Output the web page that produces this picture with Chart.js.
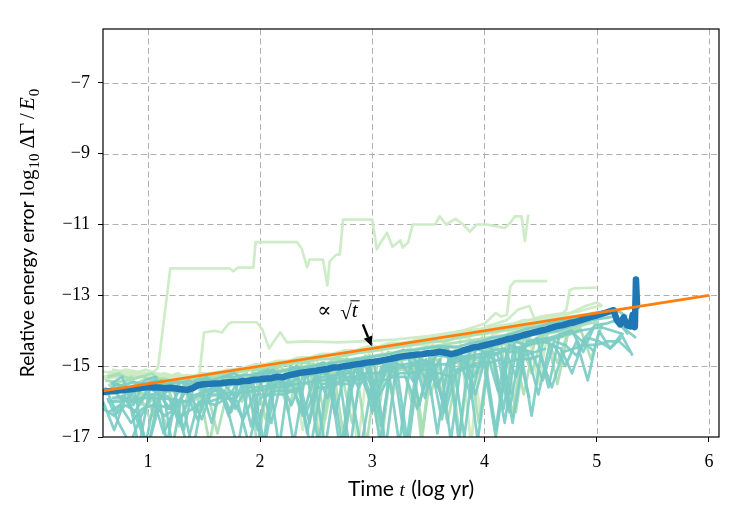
<!DOCTYPE html>
<html><head><meta charset="utf-8">
<script src="https://cdn.jsdelivr.net/npm/chart.js@4.4.1/dist/chart.umd.min.js"></script>
<style>html,body{margin:0;padding:0;background:#fff;}canvas{display:block;}</style>
</head><body>
<canvas id="c" width="750" height="525"></canvas>
<script>
// ---------- tick labels ----------
const xTicks = [1, 2, 3, 4, 5, 6];
const yTicks = [-17, -15, -13, -11, -9, -7];

// ---------- sample times (log yr) ----------
const tA = [0.6,0.7,0.8,0.9,1.0,1.1,1.2,1.3,1.4,1.5,1.6,1.7,1.8,1.9,2.0,2.1,2.2,2.3,2.4,2.5,2.6,2.7,2.8,2.9,3.0,3.1,3.2,3.3,3.4,3.5,3.6,3.7,3.8,3.9,4.0,4.1,4.2,4.3,4.4,4.5,4.6,4.7,4.8,4.9,5.0,5.1,5.2,5.3];
const tB = [0.65,0.75,0.85,0.95,1.05,1.15,1.25,1.35,1.45,1.55,1.65,1.75,1.85,1.95,2.05,2.15,2.25,2.35,2.45,2.55,2.65,2.75,2.85,2.95,3.05,3.15,3.25,3.35,3.45,3.55,3.65,3.75,3.85,3.95,4.05,4.15,4.25,4.35,4.45,4.55,4.65,4.75,4.85,4.95,5.05,5.15,5.25,5.35];
const tC = [0.62,0.72,0.82,0.92,1.02,1.12,1.22,1.32,1.42,1.52,1.62,1.72,1.82,1.92,2.02,2.12,2.22,2.32,2.42,2.52,2.62,2.72,2.82,2.92,3.02,3.12,3.22,3.32,3.42,3.52,3.62,3.72,3.82,3.92,4.02,4.12,4.22,4.32,4.42,4.52,4.62,4.72,4.82,4.92,5.02,5.12,5.22,5.32];
const tD = [0.67,0.77,0.87,0.97,1.07,1.17,1.27,1.37,1.47,1.57,1.67,1.77,1.87,1.97,2.07,2.17,2.27,2.37,2.47,2.57,2.67,2.77,2.87,2.97,3.07,3.17,3.27,3.37,3.47,3.57,3.67,3.77,3.87,3.97,4.07,4.17,4.27,4.37,4.47,4.57,4.67,4.77,4.87,4.97,5.07,5.17,5.27,5.37];
const tE = [0.64,0.74,0.84,0.94,1.04,1.14,1.24,1.34,1.44,1.54,1.64,1.74,1.84,1.94,2.04,2.14,2.24,2.34,2.44,2.54,2.64,2.74,2.84,2.94,3.04,3.14,3.24,3.34,3.44,3.54,3.64,3.74,3.84,3.94,4.04,4.14,4.24,4.34,4.44,4.54,4.64,4.74,4.84,4.94,5.04,5.14,5.24,5.34];
const tF = [0.68,0.78,0.88,0.98,1.08,1.18,1.28,1.38,1.48,1.58,1.68,1.78,1.88,1.98,2.08,2.18,2.28,2.38,2.48,2.58,2.68,2.78,2.88,2.98,3.08,3.18,3.28,3.38,3.48,3.58,3.68,3.78,3.88,3.98,4.08,4.18,4.28,4.38,4.48,4.58,4.68,4.78,4.88,4.98,5.08,5.18,5.28,5.38];

// ---------- individual runs (log10 relative energy error) ----------
const run01 = [-15.15,-15.2,-15.1,-15.15,-15.2,-15.3,-15.25,-15.3,-15.35,-15.2,-15.25,-15.1,-15.15,-15.05,-15.0,-15.3,-14.9,-14.9,-14.85,-14.8,-15.6,-14.7,-14.65,-14.6,-14.55,-14.5,-14.45,-14.4,-14.9,-14.3,-14.25,-14.2,-14.2,-14.1,-14.05,-14.0,-13.95,-14.6,-13.85,-13.8,-13.75,-13.7,-13.7,-13.6,-13.55];
const run02 = [-15.4,-15.6,-15.3,-15.8,-15.5,-15.4,-16.2,-15.5,-15.6,-15.4,-15.9,-15.3,-15.6,-15.2,-16.5,-15.2,-15.1,-15.8,-15.0,-16.8,-14.95,-15.3,-14.9,-17.2,-14.8,-15.0,-14.7,-16.0,-14.7,-14.6,-15.5,-14.5,-14.5,-16.6,-14.4,-14.6,-14.3,-15.8,-14.25,-14.2,-14.9,-14.0,-13.95];
const run03 = [-15.6,-16.3,-15.7,-17.3,-15.6,-15.9,-15.5,-16.8,-15.4,-15.7,-15.5,-16.4,-15.3,-15.5,-17.4,-15.2,-15.4,-15.1,-16.9,-15.0,-15.3,-17.5,-14.9,-15.2,-16.2,-14.9,-15.1,-17.3,-14.8,-14.9,-16.5,-14.7,-14.9,-15.8,-14.6,-14.7,-16.3,-14.5,-14.6,-15.4,-14.3,-14.4,-14.7,-14.2,-14.3,-14.5,-14.1,-14.7];
const run04 = [-15.5,-15.3,-16.1,-15.4,-15.3,-17.2,-15.5,-15.4,-15.6,-16.6,-15.3,-15.2,-15.4,-15.2,-15.1,-17.3,-15.0,-15.2,-15.0,-14.9,-16.4,-14.9,-14.8,-15.0,-17.2,-14.7,-14.8,-14.7,-15.9,-14.6,-14.5,-17.1,-14.5,-14.4,-14.5,-16.2,-14.3,-14.4,-14.2,-15.6,-14.1,-14.0,-14.3,-13.9];
const run05 = [-15.3,-15.2,-15.4,-15.3,-15.2,-15.6,-15.4,-15.5,-16.3,-15.4,-15.3,-15.2,-16.0,-15.1,-15.1,-15.0,-15.6,-14.9,-14.9,-17.4,-14.8,-14.8,-15.1,-14.7,-16.6,-14.6,-14.7,-14.6,-17.0,-14.5,-14.4,-14.5,-15.4,-14.3,-14.3,-16.0,-14.2,-14.1,-14.3,-14.0,-14.0];
const run06 = [-15.1,-15.15,-15.2,-15.1,-15.2,-15.3,-15.35,-15.3,-15.2,-15.3,-15.2,-15.1,-15.6,-15.0,-14.95,-14.9,-14.9,-16.8,-14.8,-14.75,-14.7,-14.7,-14.6,-14.6,-14.5,-15.9,-14.45,-14.4,-14.35,-14.3,-14.25,-14.2,-17.2,-14.1,-14.05,-14.0,-13.95,-13.9,-15.5,-13.8,-13.75,-13.7,-13.65,-13.6,-13.55];
const run07 = [-16.0,-16.8,-15.9,-16.5,-17.3,-15.8,-16.2,-15.9,-17.4,-15.7,-15.6,-16.1,-17.3,-15.5,-15.4,-16.6,-15.3,-17.2,-15.3,-15.2,-15.9,-15.1,-17.4,-15.0,-16.3,-14.95,-15.2,-17.3,-14.85,-15.6,-14.8,-17.1,-14.7,-15.3,-14.7,-16.8,-14.6,-14.6,-15.9];
const run08 = [-15.5,-15.9,-15.6,-15.4,-16.4,-15.6,-15.5,-15.7,-15.5,-17.2,-15.4,-15.3,-15.6,-15.2,-15.3,-15.1,-16.3,-15.0,-15.2,-14.9,-15.0,-17.1,-14.8,-14.9,-14.8,-15.4,-14.7,-14.7,-16.8,-14.6,-14.5,-14.7,-14.5,-15.2,-14.3,-14.4,-16.4,-14.2,-14.3,-14.1,-15.5,-14.0,-13.9,-14.8,-13.8];
const run09 = [-15.8,-15.5,-15.7,-16.0,-15.6,-15.4,-17.3,-15.5,-15.6,-15.3,-15.5,-15.9,-15.3,-16.7,-15.2,-15.1,-15.6,-15.0,-15.2,-17.2,-14.9,-15.1,-15.6,-14.8,-15.0,-17.3,-14.8,-14.7,-16.1,-14.6,-14.7,-14.8,-17.0,-14.5,-14.6,-15.7,-14.4,-14.5,-16.4,-14.3,-14.4,-15.0,-14.3,-15.4,-14.0,-14.5,-14.2];
const run10 = [-15.2,-15.3,-15.2,-15.2,-15.25,-15.3,-15.2,-15.4,-15.3,-15.25,-15.15,-15.1,-15.1,-15.0,-16.2,-14.95,-14.9,-14.85,-14.8,-14.75,-14.7,-14.7,-17.3,-14.6,-14.55,-14.5,-14.45,-14.4,-14.4,-14.3,-14.3,-14.2,-14.2,-16.5,-14.1,-14.0,-14.0,-13.9,-13.85,-13.8,-13.8,-13.7];
const run11 = [-15.9,-16.6,-17.2,-16.4,-15.8,-16.9,-16.2,-15.7,-16.5,-15.8,-15.6,-16.3,-15.5,-15.5,-17.3,-15.4,-15.6,-15.3,-16.6,-15.2,-15.3,-17.4,-15.1,-15.0,-15.8,-15.0,-17.2,-14.9,-15.1,-14.8,-16.2,-14.8,-14.7,-17.1,-14.7,-14.6,-15.8];
const run12 = [-15.6,-15.4,-16.0,-15.5,-15.3,-15.6,-16.7,-15.5,-15.4,-15.3,-15.8,-15.3,-15.2,-17.3,-15.1,-15.0,-15.4,-14.9,-14.95,-16.5,-14.8,-14.8,-15.1,-14.7,-17.2,-14.7,-14.6,-14.8,-15.7,-14.5,-14.5,-17.0,-14.4,-14.3,-14.6,-14.2,-16.3,-14.1,-14.1,-14.3];
const run13 = [-15.15,-15.2,-15.15,-15.2,-15.25,-15.2,-15.3,-15.25,-15.3,-15.2,-15.15,-15.1,-15.05,-14.95,-14.95,-14.85,-14.85,-14.75,-14.75,-14.65,-14.65,-14.55,-14.55,-14.45,-14.45,-14.35,-14.35,-14.3,-14.2,-14.2,-14.1,-14.1,-14.0,-13.95,-13.9,-13.85,-13.8,-13.7,-13.7,-13.6,-13.55,-13.5,-13.45,-13.35,-13.3];
const run14 = [-15.3,-15.25,-15.35,-15.3,-15.4,-15.35,-15.45,-15.4,-15.35,-15.3,-15.25,-15.2,-15.15,-15.1,-15.05,-15.0,-14.95,-14.9,-14.85,-14.8,-14.8,-14.7,-14.65,-14.6,-14.55,-14.5,-14.45,-14.4,-14.35,-14.3,-14.3,-14.2,-14.15,-14.1,-14.05,-14.0,-13.95,-13.9,-13.85,-13.8,-13.75,-13.7,-13.6,-13.6,-13.5,-13.45];
const run15 = [-15.5,-15.55,-15.45,-15.5,-15.4,-15.5,-15.45,-15.5,-15.35,-15.4,-15.3,-15.3,-15.25,-15.25,-15.2,-15.15,-15.1,-15.05,-15.0,-14.95,-14.9,-14.85,-14.8,-14.75,-14.7,-14.65,-14.55,-14.55,-14.5,-14.45,-14.45,-14.45,-14.35,-14.3,-14.2,-14.15,-14.05,-13.95,-13.9,-13.8,-13.75,-13.65,-13.6,-13.5,-13.45,-13.4,-13.6];
const run16 = [-15.9,-15.85,-16.3,-15.8,-15.8,-15.85,-16.6,-15.85,-15.75,-15.7,-15.7,-16.2,-15.6,-15.6,-15.55,-15.5,-15.45,-16.4,-15.35,-15.3,-15.25,-15.2,-15.15,-15.9,-15.05,-15.0,-14.95,-14.9,-14.85,-15.6,-14.85,-14.8,-14.7,-14.65,-14.55,-14.5,-15.3,-14.3,-14.25,-14.2,-14.1,-14.0,-14.6,-13.85,-13.8,-13.7,-14.1];
const run17 = [-15.8,-15.75,-15.7,-15.75,-16.5,-15.7,-15.7,-15.75,-15.6,-15.6,-16.9,-15.55,-15.5,-15.45,-15.45,-15.4,-15.9,-15.3,-15.25,-15.2,-15.15,-15.1,-16.6,-15.0,-14.95,-14.9,-14.85,-14.8,-14.75,-15.8,-14.7,-14.7,-14.6,-14.55,-14.5,-14.4,-14.35,-14.3,-15.2,-14.1,-14.05,-14.0,-13.9,-13.8,-13.75];
const run18 = [-16.2,-16.4,-16.1,-16.3,-17.3,-16.1,-16.2,-16.4,-16.2,-16.0,-16.1,-15.9,-16.0,-17.2,-15.9,-15.8,-15.8,-15.7,-16.4,-15.6,-15.6,-15.5,-15.5,-17.3,-15.4,-15.4,-15.3,-15.3,-16.2,-15.2,-15.2,-15.3,-15.1,-15.0,-15.0,-17.0,-14.9,-14.8,-14.8,-14.7,-15.6,-14.6,-14.5,-14.4,-14.4,-14.3,-14.3,-14.6];
const run19 = [-16.0,-15.9,-16.0,-16.1,-15.9,-16.7,-16.0,-16.0,-15.9,-15.85,-15.8,-15.8,-15.75,-15.7,-15.7,-15.65,-15.6,-15.5,-15.5,-15.4,-15.4,-15.35,-15.3,-15.25,-15.2,-15.15,-15.1,-15.05,-15.0,-15.0,-16.6,-14.95,-14.85,-14.8,-14.7,-14.6,-14.55,-14.45,-14.35,-14.3,-14.2,-14.1,-14.0];
const run20 = [-15.75,-15.7,-15.7,-15.65,-15.65,-15.7,-15.7,-15.75,-15.6,-15.55,-15.55,-15.5,-15.5,-15.45,-15.4,-15.35,-15.3,-15.25,-15.2,-15.15,-15.1,-15.05,-15.0,-14.95,-14.9,-14.85,-14.8,-14.75,-14.7,-14.7,-14.7,-14.65,-14.6,-14.5,-14.45,-14.35,-14.3,-14.2,-14.1,-14.05,-14.0,-13.9,-13.8,-13.7,-13.65,-13.6,-13.95,-14.2];
const run21 = [-15.2,-15.25,-15.3,-15.2,-15.35,-15.3,-15.25,-15.4,-15.3,-15.25,-15.6,-15.15,-15.1,-15.05,-15.0,-14.95,-14.9,-16.1,-14.8,-14.8,-14.75,-14.65,-14.6,-14.6,-14.5,-14.5,-14.4,-14.4,-17.2,-14.3,-14.25,-14.2,-14.15,-14.1,-14.05,-14.0,-13.9,-13.9,-13.85,-13.75,-13.7,-13.65,-13.6];
const run22 = [-15.6,-16.0,-15.7,-17.2,-15.6,-16.2,-15.7,-15.8,-16.5,-15.6,-15.5,-15.9,-15.5,-16.8,-15.4,-15.4,-16.1,-15.3,-15.2,-17.3,-15.2,-15.1,-15.6,-15.0,-16.7,-14.9,-15.0,-15.5,-14.8,-16.9,-14.8,-14.7,-15.9,-14.6,-14.8,-16.6,-14.5,-14.6,-15.8,-14.4,-14.5,-15.2,-14.3,-14.6];
const run23 = [-15.4,-15.45,-15.4,-15.5,-15.45,-15.5,-15.5,-15.45,-15.5,-15.4,-15.4,-15.35,-15.3,-15.25,-15.2,-15.15,-15.1,-15.05,-15.0,-14.95,-14.9,-14.85,-14.8,-14.75,-14.7,-14.65,-14.6,-14.55,-14.5,-14.45,-14.4,-14.35,-14.3,-14.25,-14.2,-14.15,-14.1,-14.05,-14.0,-13.95,-13.9,-13.85];
const run24 = [-16.0,-16.0,-15.95,-15.9,-15.9,-15.9,-15.95,-16.0,-15.85,-15.8,-15.8,-15.75,-15.75,-15.7,-15.65,-15.6,-15.55,-15.5,-15.45,-15.4,-15.35,-15.3,-15.3,-15.2,-15.2,-15.1,-15.05,-15.0,-14.95,-14.95,-14.95,-14.9,-14.8,-14.75,-14.7,-14.6,-14.5,-14.45,-14.35,-14.3,-14.2,-14.1,-14.0,-13.95,-13.9,-14.0,-14.1];
const run25 = [-15.2,-15.25,-15.2,-15.3,-15.3,-15.35,-15.3,-15.35,-15.25,-15.2,-15.15,-15.1,-15.05,-15.0,-14.95,-14.9,-14.85,-14.8,-14.75,-14.7,-14.65,-14.6,-14.55,-14.5,-14.45,-14.4,-14.35,-14.3,-14.25,-14.2,-14.15,-14.1,-14.05,-14.0,-13.95,-13.9,-13.85,-13.8,-13.75,-13.7,-13.65,-13.6,-13.55,-13.5];
const run26 = [-16.3,-16.1,-16.6,-16.2,-16.1,-16.4,-16.2,-17.2,-16.0,-16.0,-15.9,-15.9,-16.5,-15.8,-15.8,-15.7,-15.7,-15.6,-17.3,-15.5,-15.5,-15.4,-15.4,-15.3,-15.9,-15.3,-15.2,-15.2,-15.1,-15.1,-16.3,-15.1,-15.0,-14.9,-14.9,-14.8,-16.6,-14.7,-14.6,-14.5];

// outlier runs (own sample times)
const tOut1 = [0.6,0.8,1.0,1.09,1.2,1.73,1.76,1.8,1.94,1.96,2.33,2.37,2.42,2.44,2.56,2.6,2.62,2.68,2.71,2.74,3.0,3.04,3.13,3.18,3.25,3.27,3.32,3.36,3.56,3.6,3.66,3.74,3.81,3.87,3.93,4.02,4.18,4.23,4.27,4.33,4.36,4.39];
const out1  = [-15.3,-15.2,-15.3,-15.05,-12.24,-12.24,-12.32,-12.22,-12.22,-11.5,-11.5,-11.68,-12.21,-11.99,-11.99,-12.72,-12.04,-11.85,-11.85,-10.86,-10.86,-11.7,-11.23,-11.63,-11.45,-11.65,-11.5,-11.0,-11.0,-10.77,-11.0,-10.84,-11.0,-11.2,-11.0,-11.0,-11.1,-10.95,-10.77,-10.77,-11.47,-10.72];
const tOut2 = [0.6,0.9,1.2,1.45,1.5,1.6,1.66,1.72,1.75,1.97,2.02,2.08,2.18,2.24,2.4,2.7,2.9,3.2,3.5,3.8,4.0];
const out2  = [-15.35,-15.25,-15.35,-15.5,-14.05,-14.0,-14.05,-13.8,-13.76,-13.76,-13.96,-14.5,-14.04,-14.33,-14.3,-14.33,-14.3,-14.25,-14.15,-14.0,-13.95];
const tOut3 = [3.5,3.7,3.9,4.0,4.1,4.15,4.2,4.23,4.27,4.56];
const out3  = [-14.2,-14.1,-13.9,-13.8,-13.5,-13.6,-13.55,-12.75,-12.6,-12.6];
const tOut4 = [4.3,4.5,4.7,4.73,4.76,4.8,5.0];
const out4  = [-13.8,-13.6,-13.5,-13.4,-12.85,-12.8,-12.78];
const tOut5 = [4.0,4.2,4.3,4.4,4.45,4.7,4.9,5.0,5.05];
const out5  = [-13.9,-13.7,-13.4,-13.3,-13.7,-13.6,-13.3,-13.2,-13.3];

// ---------- mean over runs ----------
const tMean = [0.6,0.65,0.7,0.75,0.8,0.85,0.9,0.95,1.0,1.05,1.1,1.15,1.2,1.25,1.3,1.35,1.4,1.45,1.5,1.55,1.6,1.65,1.7,1.75,1.8,1.85,1.9,1.95,2.0,2.05,2.1,2.15,2.2,2.25,2.3,2.35,2.4,2.45,2.5,2.55,2.6,2.65,2.7,2.75,2.8,2.85,2.9,2.95,3.0,3.05,3.1,3.15,3.2,3.25,3.3,3.35,3.4,3.45,3.5,3.55,3.6,3.65,3.7,3.75,3.8,3.85,3.9,3.95,4.0,4.05,4.1,4.15,4.2,4.25,4.3,4.35,4.4,4.45,4.5,4.55,4.6,4.65,4.7,4.75,4.8,4.85,4.9,4.95,5.0,5.05,5.1,5.15,5.18,5.21,5.24,5.27,5.3,5.32,5.34,5.35,5.36];
const meanErr = [-15.73,-15.71,-15.70,-15.68,-15.67,-15.65,-15.63,-15.61,-15.59,-15.60,-15.60,-15.62,-15.61,-15.63,-15.65,-15.67,-15.62,-15.53,-15.51,-15.50,-15.49,-15.48,-15.46,-15.45,-15.45,-15.42,-15.41,-15.38,-15.37,-15.35,-15.34,-15.30,-15.31,-15.26,-15.23,-15.19,-15.17,-15.15,-15.13,-15.10,-15.08,-15.04,-15.03,-15.00,-14.98,-14.95,-14.93,-14.90,-14.88,-14.86,-14.83,-14.80,-14.77,-14.73,-14.71,-14.69,-14.67,-14.66,-14.63,-14.62,-14.59,-14.62,-14.66,-14.63,-14.57,-14.52,-14.47,-14.45,-14.41,-14.37,-14.33,-14.29,-14.24,-14.21,-14.17,-14.12,-14.08,-14.04,-14.00,-13.96,-13.91,-13.87,-13.84,-13.79,-13.76,-13.71,-13.66,-13.61,-13.57,-13.52,-13.47,-13.42,-13.70,-13.82,-13.62,-13.85,-13.88,-13.55,-13.90,-12.55,-13.30];

// ---------- sqrt(t) reference line ----------
const tRef = [0.6, 6.0];
const refErr = [-15.7, -13.0];

// ---------- build datasets ----------
const LIGHT = 'rgba(204,235,197,0.95)', MID = 'rgba(168,221,181,0.92)', TEAL = 'rgba(123,204,196,0.92)';
function pts(xs, ys){ return ys.map((v,i)=>({x:xs[i], y:v})); }
function runDs(xs, ys, color, order){
  return {data: pts(xs, ys), borderColor: color, borderWidth: 2.7, pointRadius: 0, tension: 0, fill: false, clip: 0, order: order};
}
const datasets = [
  {data: pts(tRef, refErr), borderColor: '#ff7f0e', borderWidth: 2.7, pointRadius: 0, clip: 0, order: 0},
  {data: pts(tMean, meanErr), borderColor: '#1f77b4', borderWidth: 6.5, pointRadius: 0, clip: 0, order: 1, borderJoinStyle: 'round', borderCapStyle: 'round'},
  runDs(tA, run01, LIGHT, 40), runDs(tB, run02, MID, 30), runDs(tC, run03, TEAL, 10),
  runDs(tD, run04, TEAL, 11), runDs(tE, run05, MID, 31), runDs(tF, run06, LIGHT, 41),
  runDs(tA, run07, TEAL, 12), runDs(tB, run08, MID, 32), runDs(tC, run09, TEAL, 13),
  runDs(tD, run10, LIGHT, 42), runDs(tE, run11, TEAL, 14), runDs(tF, run12, MID, 33),
  runDs(tB, run13, LIGHT, 43), runDs(tE, run14, MID, 34), runDs(tD, run15, TEAL, 15),
  runDs(tF, run16, TEAL, 16), runDs(tC, run17, MID, 35), runDs(tA, run18, TEAL, 17),
  runDs(tD, run19, MID, 36), runDs(tB, run20, TEAL, 18), runDs(tE, run21, LIGHT, 44),
  runDs(tF, run22, TEAL, 19), runDs(tC, run23, MID, 37), runDs(tE, run24, TEAL, 20),
  runDs(tD, run25, LIGHT, 45), runDs(tB, run26, TEAL, 21),
  runDs(tOut1, out1, LIGHT, 50), runDs(tOut2, out2, LIGHT, 51), runDs(tOut3, out3, LIGHT, 52),
  runDs(tOut4, out4, LIGHT, 53), runDs(tOut5, out5, LIGHT, 54)
];

const SERIF = '"Liberation Serif", "DejaVu Serif", serif';
const SANS = 'Lato, "Liberation Sans", sans-serif';

function drawSegments(ctx, segs, startX, baseY){
  let x = startX;
  segs.forEach(s=>{ ctx.font = s.f; ctx.fillText(s.t, x, baseY + (s.dy||0)); x += ctx.measureText(s.t).width + (s.gap||0); });
}
function segWidth(ctx, segs){
  let w = 0; segs.forEach(s=>{ ctx.font = s.f; w += ctx.measureText(s.t).width + (s.gap||0); }); return w;
}
function fitSize(ctx, text, family, target){
  ctx.font = '100px ' + family; return 100 * target / ctx.measureText(text).width;
}

const deco = {
  id: 'deco',
  beforeDatasetsDraw(chart){
    const {ctx, chartArea: a, scales: {x, y}} = chart;
    ctx.save();
    ctx.strokeStyle = '#b0b0b0'; ctx.lineWidth = 1; ctx.setLineDash([6, 3.5]);
    xTicks.forEach(v=>{ const px = Math.round(x.getPixelForValue(v)) + 0.5; ctx.beginPath(); ctx.moveTo(px, a.top); ctx.lineTo(px, a.bottom); ctx.stroke(); });
    yTicks.forEach(v=>{ if (v === -17) return; const py = Math.round(y.getPixelForValue(v)) + 0.5; ctx.beginPath(); ctx.moveTo(a.left, py); ctx.lineTo(a.right, py); ctx.stroke(); });
    ctx.restore();
  },
  afterDraw(chart){
    const {ctx, chartArea: a, scales: {x, y}} = chart;
    ctx.save();
    ctx.strokeStyle = '#000'; ctx.lineWidth = 1.2; ctx.setLineDash([]);
    ctx.strokeRect(a.left, a.top, a.right - a.left, a.bottom - a.top);
    ctx.fillStyle = '#000'; ctx.textBaseline = 'alphabetic'; ctx.textAlign = 'left';
    // annotation  "∝ √t"
    const ax = x.getPixelForValue(2.51), ay = y.getPixelForValue(-13.62);
    ctx.font = '21px ' + SERIF;
    ctx.fillText('\u221D', ax, ay);
    const sx = ax + 23;
    ctx.fillText('\u221A', sx, ay + 2);
    const rw = ctx.measureText('\u221A').width;
    ctx.font = 'italic 21px ' + SERIF;
    ctx.fillText('t', sx + rw, ay);
    const tw = ctx.measureText('t').width;
    ctx.lineWidth = 1; ctx.beginPath(); ctx.moveTo(sx + rw - 1.5, ay - 16.5); ctx.lineTo(sx + rw + tw + 2, ay - 16.5); ctx.stroke();
    // arrow
    const x0 = x.getPixelForValue(2.916), y0 = y.getPixelForValue(-13.82);
    const x1 = x.getPixelForValue(2.995), y1 = y.getPixelForValue(-14.44);
    const ang = Math.atan2(y1 - y0, x1 - x0), hl = 10, hw = 4.5;
    const bx = x1 - hl * Math.cos(ang), by = y1 - hl * Math.sin(ang);
    ctx.lineWidth = 2.4; ctx.beginPath(); ctx.moveTo(x0, y0); ctx.lineTo(bx, by); ctx.stroke();
    ctx.beginPath(); ctx.moveTo(x1, y1);
    ctx.lineTo(bx + hw * Math.sin(ang), by - hw * Math.cos(ang));
    ctx.lineTo(bx - hw * Math.sin(ang), by + hw * Math.cos(ang));
    ctx.closePath(); ctx.fill();
    // x title
    const fsX = fitSize(ctx, 'Time  (log yr)', SANS, 120);
    const xs = [{t:'Time ', f:fsX + 'px ' + SANS}, {t:'t', f:'italic 19px ' + SERIF, gap: 1}, {t:' (log yr)', f:fsX + 'px ' + SANS}];
    const xw = segWidth(ctx, xs);
    drawSegments(ctx, xs, (a.left + a.right) / 2 - xw / 2, 496);
    // y title (rotated)
    const fsY = fitSize(ctx, 'Relative energy error', SANS, 176);
    const ys = [{t:'Relative energy error ', f:fsY + 'px ' + SANS}, {t:'log', f:'21px ' + SERIF, gap: 1}, {t:'10', f:'15px ' + SERIF, dy: 5, gap: 5},
                {t:'\u0394\u0393', f:'21px ' + SERIF, gap: 4}, {t:'/', f:'21px ' + SERIF, gap: 3}, {t:'E', f:'italic 21px ' + SERIF, gap: 1}, {t:'0', f:'15px ' + SERIF, dy: 5}];
    const yw = segWidth(ctx, ys);
    ctx.translate(34, (a.top + a.bottom) / 2); ctx.rotate(-Math.PI / 2);
    drawSegments(ctx, ys, -yw / 2, 0);
    ctx.restore();
  }
};

new Chart(document.getElementById('c'), {
  type: 'line',
  data: {datasets},
  options: {
    responsive: false, animation: false, devicePixelRatio: 1,
    layout: {padding: {top: 29, right: 31, left: 0, bottom: 0}},
    plugins: {legend: {display: false}, tooltip: {enabled: false}},
    elements: {line: {borderJoinStyle: 'round'}},
    scales: {
      x: {
        type: 'linear', min: 0.6, max: 6.09,
        afterBuildTicks: s => { s.ticks = xTicks.map(v => ({value: v})); },
        afterFit: s => { s.height = 88; },
        ticks: {color: '#000', font: {family: SERIF, size: 18}, padding: 9, maxRotation: 0, callback: v => String(v)},
        grid: {display: true, drawOnChartArea: false, drawTicks: true, tickLength: 5, tickColor: '#000', tickWidth: 1},
        border: {display: false}
      },
      y: {
        type: 'linear', min: -17, max: -5.48,
        afterBuildTicks: s => { s.ticks = yTicks.map(v => ({value: v})); },
        afterFit: s => { s.width = 103; },
        ticks: {color: '#000', font: {family: SERIF, size: 18}, padding: 8, callback: v => (v < 0 ? '\u2212' + Math.abs(v) : String(v))},
        grid: {display: true, drawOnChartArea: false, drawTicks: true, tickLength: 5, tickColor: '#000', tickWidth: 1},
        border: {display: false}
      }
    }
  },
  plugins: [deco]
});
</script>
</body></html>
